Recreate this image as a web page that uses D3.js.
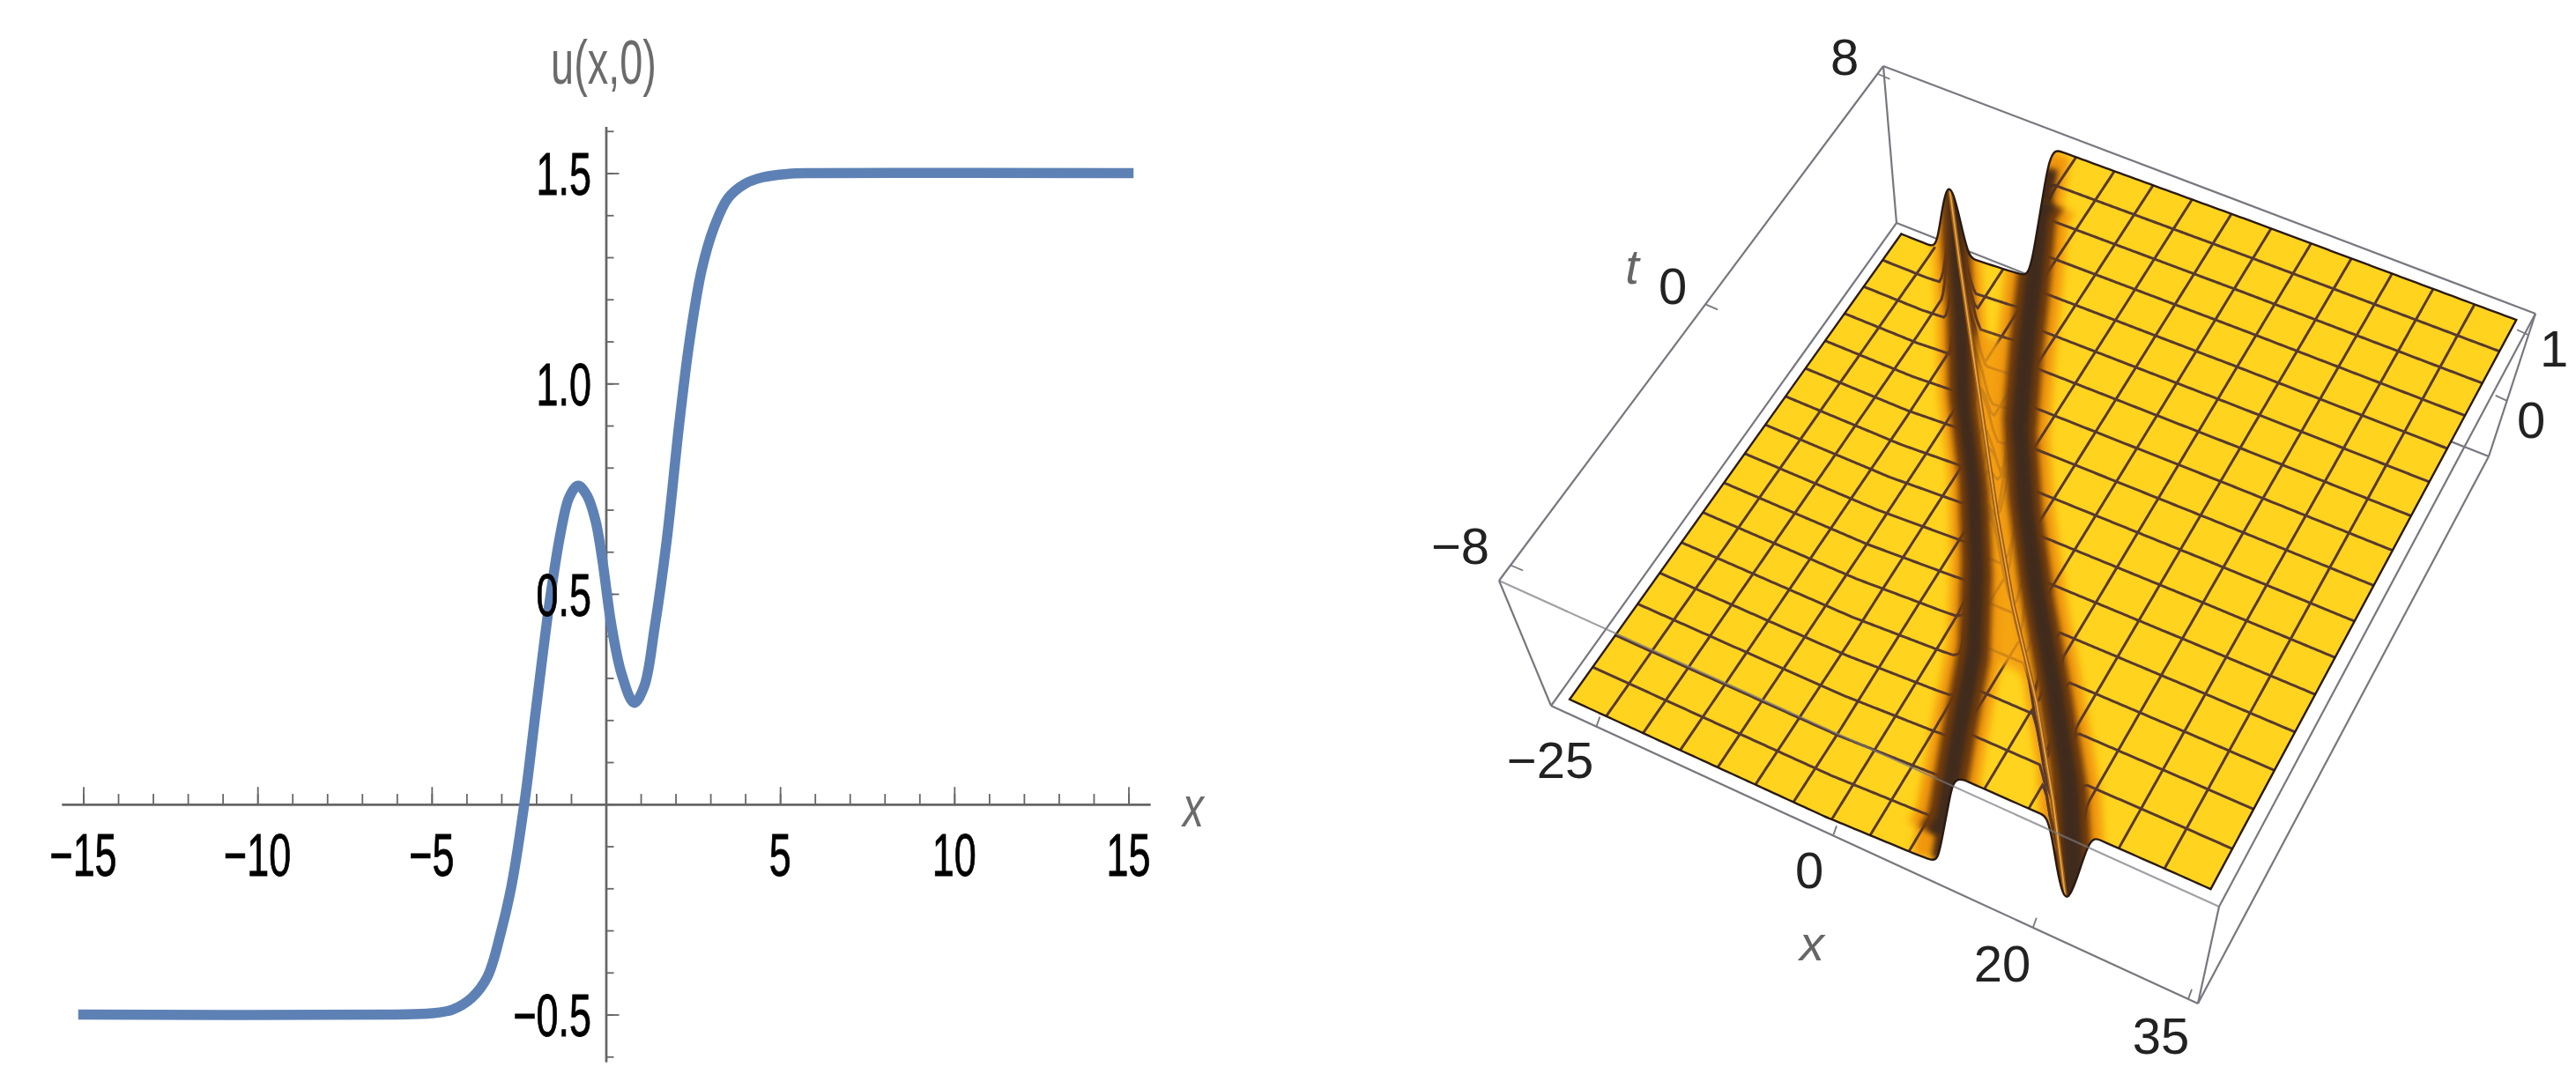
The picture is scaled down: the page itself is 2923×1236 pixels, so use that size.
<!DOCTYPE html>
<html>
<head>
<meta charset="utf-8">
<script src="https://cdnjs.cloudflare.com/ajax/libs/d3/7.8.5/d3.min.js"></script>
<style>
  html, body { margin: 0; background: #fff; }
  text { font-family: "Liberation Sans", Arial, sans-serif; }
</style>
</head>
<body>
<svg id="vis" width="2923" height="1236"></svg>
<script>
// left panel: u(x,0)
var curveX = [-15, -6, -5, -4.4, -3.85, -3.4, -3, -2.7, -2.31, -2, -1.6, -1.3, -1.05, -0.8, -0.55, -0.3, -0.1, 0.15, 0.45, 0.81,
  1.1, 1.4, 1.75, 2.1, 2.4, 2.75, 3.1, 3.5, 4, 4.5, 5.2, 6, 15];
var curveU = [-0.5, -0.5, -0.497, -0.488, -0.46, -0.41, -0.3, -0.19, 0.02, 0.23, 0.49, 0.645, 0.73, 0.757, 0.735, 0.675, 0.58, 0.43, 0.31, 0.241,
  0.28, 0.42, 0.63, 0.9, 1.1, 1.27, 1.37, 1.44, 1.475, 1.49, 1.498, 1.5, 1.5];
var xMajor = [-15, -10, -5, 5, 10, 15];
var xMinor = d3.range(-15, 16);
var uMajor = [-0.5, 0.5, 1, 1.5];
var uMinor = d3.range(-6, 17).map(function(d) { return d / 10; });

// right panel: tracks of the two waves on the surface
var tRows = [8, 6, 4, 2, 0, -2, -4, -6, -8];
var leftBandX = [-18.7, -14.5, -10, -5.8, -0.8, 3.5, 7.2, 9.8, 12.5];
var rightBandX = [-9.8, -6.6, -3.5, -0.2, 4.2, 9.2, 14.6, 19.8, 24];
var stepX = [-9.8, -6.6, -3.5, -0.6, 1, 3, 6.3, 9.6, 12.6];
var ridgeX = [-19.3, -14.2, -9, -3.8, 1.4, 6.9, 13, 18.4, 23.4];
var crestU = [0.4, 0.35, 0.3, 0.25, 0.2, 0.16, 0.12, 0.06, 0];
var meshX = d3.range(1, 16).map(function(i) { return -25 + i * 3.75; });
var meshT = d3.range(1, 16).map(function(i) { return -8 + i; });

var svg = d3.select("#vis");

function stretched(parent, str, x, y, size, sx, anchor, color, italic, weight) {
  parent.append("text")
      .attr("transform", "translate(" + x + "," + y + ") scale(" + sx + ",1)")
      .attr("text-anchor", anchor)
      .attr("dy", "0.36em")
      .attr("font-size", size)
      .attr("font-style", italic ? "italic" : null)
      .attr("fill", color)
      .attr("stroke", weight ? color : null)
      .attr("stroke-width", weight || null)
      .text(str);
}

function fmt(d) { return (d < 0 ? "\u2212" : "") + Math.abs(d); }

// ---------- left panel
var x = d3.scaleLinear().domain([-15.62, 15.62]).range([70, 1305]);
var y = d3.scaleLinear().domain([-0.612, 1.611]).range([1205, 143.5]);
var left = svg.append("g");

function styleAxis(g) {
  g.selectAll("line").attr("stroke", "#666").attr("stroke-width", 1.8);
  g.select(".domain").attr("stroke", "#666").attr("stroke-width", 2.4);
  g.selectAll("text").remove();
}

left.append("g").attr("transform", "translate(0," + y(0) + ")")
    .call(d3.axisTop(x).tickValues(xMinor).tickSizeInner(11.7).tickSizeOuter(0))
    .call(styleAxis);
left.append("g").attr("transform", "translate(0," + y(0) + ")")
    .call(d3.axisTop(x).tickValues(xMajor).tickSizeInner(19.6).tickSizeOuter(0))
    .call(styleAxis);
left.append("g").attr("transform", "translate(" + x(0) + ",0)")
    .call(d3.axisRight(y).tickValues(uMinor).tickSizeInner(9).tickSizeOuter(0))
    .call(styleAxis);
left.append("g").attr("transform", "translate(" + x(0) + ",0)")
    .call(d3.axisRight(y).tickValues(uMajor).tickSizeInner(15).tickSizeOuter(0))
    .call(styleAxis);

var curve = d3.line()
    .x(function(d) { return x(d[0]); })
    .y(function(d) { return y(d[1]); })
    .curve(d3.curveCatmullRom.alpha(0.5));

left.append("path")
    .attr("d", curve(d3.zip(curveX, curveU)))
    .attr("fill", "none")
    .attr("stroke", "#5E81B5")
    .attr("stroke-width", 11.5)
    .attr("stroke-linecap", "square");

xMajor.forEach(function(d) {
  stretched(left, fmt(d), x(d), 970, 68, 0.66, "middle", "#000", false, 0.9);
});
uMajor.forEach(function(d) {
  stretched(left, d === 1 ? "1.0" : fmt(d), 671, y(d), 68, 0.66, "end", "#000", false, 0.9);
});
stretched(left, "u(x,0)", 685, 70, 70, 0.67, "middle", "#6b6b6b");
stretched(left, "x", 1354, 915, 64, 0.75, "middle", "#6b6b6b", true);

// ---------- right panel: box corners and a plane mapping for the surface
var boxLow = [[2152, 253], [2824, 518], [2494, 1139], [1760, 801]];   // back left, back right, front right, front left
var boxHigh = [[2137, 75], [2877, 356], [2518, 1029], [1701, 659]];

function planeMap(q) {
  var dx1 = q[1][0] - q[2][0], dx2 = q[3][0] - q[2][0], sx = q[0][0] - q[1][0] + q[2][0] - q[3][0],
      dy1 = q[1][1] - q[2][1], dy2 = q[3][1] - q[2][1], sy = q[0][1] - q[1][1] + q[2][1] - q[3][1],
      den = dx1 * dy2 - dx2 * dy1,
      g = (sx * dy2 - dx2 * sy) / den,
      h = (dx1 * sy - sx * dy1) / den,
      a = q[1][0] - q[0][0] + g * q[1][0], b = q[3][0] - q[0][0] + h * q[3][0],
      d = q[1][1] - q[0][1] + g * q[1][1], e = q[3][1] - q[0][1] + h * q[3][1];
  return function(u, v) {
    var w = g * u + h * v + 1;
    return [(a * u + b * v + q[0][0]) / w, (d * u + e * v + q[0][1]) / w];
  };
}

var lowMap = planeMap(boxLow), highMap = planeMap(boxHigh);
var boxX = d3.scaleLinear().domain([-26.2, 36.2]).range([0, 1]);
var boxT = d3.scaleLinear().domain([8.32, -8.32]).range([0, 1]);
var boxU = d3.scaleLinear().domain([-0.52, 1.52]).range([0, 1]);

function project(px, pt, pu) {
  var lo = lowMap(boxX(px), boxT(pt)), hi = highMap(boxX(px), boxT(pt)), k = boxU(pu);
  return [lo[0] + (hi[0] - lo[0]) * k, lo[1] + (hi[1] - lo[1]) * k];
}

var stepAt = d3.scaleLinear().domain(tRows).range(stepX);
var ridgeAt = d3.scaleLinear().domain(tRows).range(ridgeX);
var crestAt = d3.scaleLinear().domain(tRows).range(crestU);
var leftAt = d3.scaleLinear().domain(tRows).range(leftBandX);
var rightAt = d3.scaleLinear().domain(tRows).range(rightBandX);
var stepProfile = d3.scaleLinear()
    .domain([-12, -3, -1.7, -1, 0, 1, 1.7, 20, 45])
    .range([-0.5, -0.42, -0.4, -0.32, 0.5, 1.36, 1.43, 1.47, 1.5])
    .clamp(true);
var ridgeProfile = d3.scaleLinear()
    .domain([-1.9, -1.45, -0.95, -0.3, 0, 0.3, 0.95, 1.45, 1.9])
    .range([0, 0.2, 0.6, 0.95, 1, 0.95, 0.6, 0.2, 0])
    .clamp(true);

function surfaceU(px, pt) {
  var base = stepProfile(px - stepAt(pt));
  return base + (crestAt(pt) - base) * ridgeProfile(px - ridgeAt(pt));
}

var right = svg.append("g");
var defs = svg.append("defs");
function blur(id, amount) {
  defs.append("filter").attr("id", id)
      .attr("filterUnits", "userSpaceOnUse")
      .attr("x", 1500).attr("y", 0).attr("width", 1423).attr("height", 1236)
      .append("feGaussianBlur").attr("stdDeviation", amount);
}
blur("soft", 5);
blur("soft2", 3.2);

var boxColor = "#77777f";
function boxEdge(a, b, opacity) {
  right.append("line").attr("x1", a[0]).attr("y1", a[1]).attr("x2", b[0]).attr("y2", b[1])
      .attr("stroke", boxColor).attr("stroke-width", 2.2).attr("stroke-opacity", opacity || 1);
}
// hidden edges first
boxEdge(boxLow[0], boxLow[1]);
boxEdge(boxLow[0], boxLow[3]);
boxEdge(boxHigh[0], boxLow[0]);
boxEdge(boxHigh[0], boxHigh[1]);
boxEdge(boxHigh[0], boxHigh[3]);
boxEdge(boxHigh[1], boxLow[1]);
boxEdge(boxLow[1], boxLow[2]);
boxEdge(boxLow[3], boxLow[2]);
boxEdge(boxHigh[3], boxLow[3]);
boxEdge(boxHigh[2], boxLow[2]);
boxEdge(boxHigh[1], boxHigh[2]);

// surface outline, sampled along its four sides
var fineX = d3.range(-25, 35.01, 0.25);
var edgeX = d3.range(-25, 35.01, 0.5);
var backEdge = edgeX.map(function(d) { return project(d, 8, surfaceU(d, 8)); });
var frontEdge = edgeX.map(function(d) { return project(d, -8, surfaceU(d, -8)); });
var path2d = d3.line().curve(d3.curveLinear);
var smooth2d = d3.line().curve(d3.curveBasis);
// straight sides join the smoothed back and front edges
var outlinePath = smooth2d(backEdge) + "L" + smooth2d(frontEdge.slice().reverse()).slice(1) + "Z";

defs.append("clipPath").attr("id", "surfaceClip").append("path").attr("d", outlinePath);

right.append("path").attr("d", outlinePath).attr("fill", "#FFD31E");

var onSurface = right.append("g").attr("clip-path", "url(#surfaceClip)");

// shaded strip running along a wave track, on the mid level of the box
function strip(trackAt, halfWidth, color, filter) {
  var fineT = d3.range(-8.4, 8.41, 0.4);
  var a = fineT.map(function(t) { return project(trackAt(Math.max(-8, Math.min(8, t))) - halfWidth, t, 0.5); });
  var b = fineT.map(function(t) { return project(trackAt(Math.max(-8, Math.min(8, t))) + halfWidth, t, 0.5); });
  onSurface.append("path")
      .attr("d", path2d(a.concat(b.reverse())) + "Z")
      .attr("fill", color)
      .attr("filter", filter);
}

// shading that follows the steep parts of the back and front edges
function edgeShade(pt, from, to, width, color, filter) {
  var pts = d3.range(from, to + 0.01, 0.25).map(function(d) { return project(d, pt, surfaceU(d, pt)); });
  onSurface.append("path")
      .attr("d", path2d(pts))
      .attr("fill", "none")
      .attr("stroke", color)
      .attr("stroke-width", width)
      .attr("filter", filter);
}

strip(leftAt, 2.4, "#F0960E", "url(#soft)");
strip(rightAt, 2.8, "#F0960E", "url(#soft)");
edgeShade(8, stepX[0] - 1.5, stepX[0] + 1.5, 46, "#F0960E", "url(#soft)");
edgeShade(8, ridgeX[0] - 1.7, ridgeX[0] + 1.7, 24, "#F0960E", "url(#soft2)");
edgeShade(-8, stepX[8] - 1.5, stepX[8] + 1.2, 60, "#F0960E", "url(#soft)");
edgeShade(-8, ridgeX[8] - 1.8, ridgeX[8] + 1.8, 30, "#F0960E", "url(#soft2)");

// mesh
var mesh = onSurface.append("g")
    .attr("fill", "none")
    .attr("stroke", "#57392F")
    .attr("stroke-width", 3);
meshT.forEach(function(t) {
  mesh.append("path").attr("d", path2d(fineX.map(function(d) { return project(d, t, surfaceU(d, t)); })));
});
meshX.forEach(function(m) {
  mesh.append("path").attr("d", path2d(d3.range(-8, 8.01, 0.1).map(function(t) { return project(m, t, surfaceU(m, t)); })));
});

// orange lens between the two bands, where the waves cross
var lensT = d3.range(-4, 4.01, 0.4);
onSurface.append("path")
    .attr("d", path2d(lensT.map(function(t) { return project(leftAt(t), t, 0.5); })
        .concat(lensT.slice().reverse().map(function(t) { return project(rightAt(t), t, 0.5); }))) + "Z")
    .attr("fill", "#F29A12")
    .attr("fill-opacity", 0.8)
    .attr("filter", "url(#soft)");

edgeShade(8, stepX[0] - 1.5, stepX[0] + 0.9, 24, "#4A2A12", "url(#soft2)");
edgeShade(-8, stepX[8] - 1.2, stepX[8] + 1.2, 16, "#4A2A12", "url(#soft2)");
edgeShade(-8, ridgeX[8] - 1.2, ridgeX[8] + 1.4, 22, "#4A2A12", "url(#soft2)");

strip(leftAt, 1.5, "#6E3A08", "url(#soft2)");
strip(rightAt, 1.7, "#6E3A08", "url(#soft2)");
strip(leftAt, 0.7, "#3F2A1C", "url(#soft2)");
strip(rightAt, 0.85, "#3F2A1C", "url(#soft2)");

// crest of the narrow wave
var crest = d3.range(-8, 8.01, 0.2).map(function(t) {
  return project(ridgeAt(t), t, crestAt(t));
});
onSurface.append("path").attr("d", path2d(crest)).attr("fill", "none").attr("stroke", "#9A5A18").attr("stroke-width", 5);
onSurface.append("path").attr("d", path2d(crest)).attr("fill", "none").attr("stroke", "#E9A63C").attr("stroke-width", 1.8);

right.append("path").attr("d", outlinePath)
    .attr("fill", "none").attr("stroke", "#2A1A12").attr("stroke-width", 2.4);

// front top edge passes in front of the surface
boxEdge(boxHigh[3], boxHigh[2], 0.7);

// axis ticks along the box edges
var xTickAt = d3.scaleLinear().domain([-25, 0, 20, 35]).range([0.07, 0.436, 0.745, 0.985]);
var tTickAt = d3.scaleLinear().domain([-8, 0, 8]).range([0.03, 0.537, 0.985]);
var uTickAt = d3.scaleLinear().domain([1, 0]).range([0.15, 0.61]);
function along(a, b, k) { return [a[0] + (b[0] - a[0]) * k, a[1] + (b[1] - a[1]) * k]; }
function tick(p, dx, dy) {
  right.append("line").attr("x1", p[0]).attr("y1", p[1]).attr("x2", p[0] + dx).attr("y2", p[1] + dy)
      .attr("stroke", boxColor).attr("stroke-width", 1.8);
}

[-25, 0, 20, 35].forEach(function(d) { tick(along(boxLow[3], boxLow[2], xTickAt(d)), 4, -11); });
[-8, 0, 8].forEach(function(d) { tick(along(boxHigh[3], boxHigh[0], tTickAt(d)), 14, 6); });
[1, 0].forEach(function(d) { tick(along(boxHigh[1], boxLow[1], uTickAt(d)), -13, -6); });

var ink = "#222";
stretched(right, fmt(8), 2093, 64, 58, 1, "middle", ink);
stretched(right, fmt(0), 1898, 324, 58, 1, "middle", ink);
stretched(right, fmt(-8), 1657, 619, 58, 1, "middle", ink);
stretched(right, fmt(-25), 1759, 862, 58, 1, "middle", ink);
stretched(right, fmt(0), 2053, 987, 58, 1, "middle", ink);
stretched(right, fmt(20), 2272, 1093, 58, 1, "middle", ink);
stretched(right, fmt(35), 2452, 1175, 58, 1, "middle", ink);
stretched(right, fmt(1), 2898, 395, 58, 1, "middle", ink);
stretched(right, fmt(0), 2872, 476, 58, 1, "middle", ink);
stretched(right, "t", 1852, 302, 56, 1, "middle", "#666", true);
stretched(right, "x", 2056, 1070, 56, 1, "middle", "#666", true);
</script>
</body>
</html>
